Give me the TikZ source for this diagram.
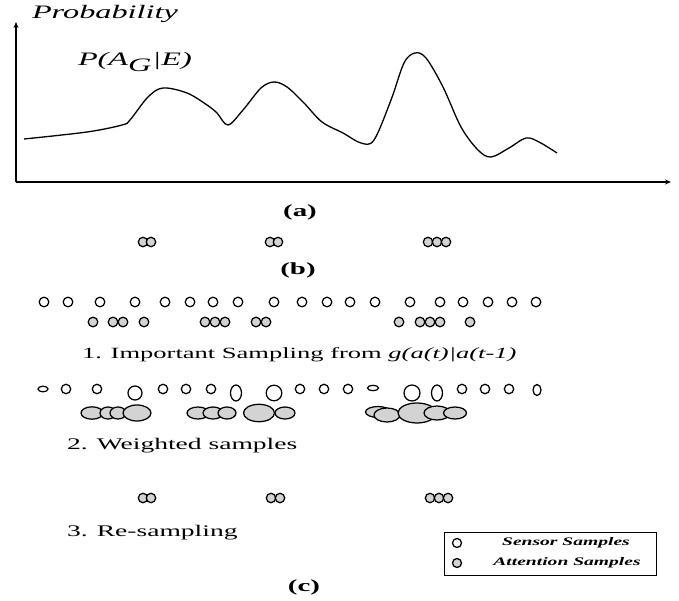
\documentclass[tikz,border=0pt]{standalone}
\usepackage{fontspec}
\setmainfont{Liberation Serif}
\usepackage{graphicx}
\usetikzlibrary{arrows.meta}
\definecolor{attgray}{RGB}{211,211,211}
\newcommand{\sx}[1]{\scalebox{1.7}[1]{#1}}
\tikzset{
  sens/.style={draw=black, line width=1.25pt, fill=white},
  att/.style={draw=black, line width=1.25pt, fill=attgray},
  axisline/.style={line width=1.2pt, -{Stealth[length=6pt,width=5pt]}},
  lbl/.style={inner sep=0pt, outer sep=0pt},
}
\begin{document}
\begin{tikzpicture}[x=1pt,y=-1pt]
\useasboundingbox[fill=white] (0,0) rectangle (679,601);
% axes
\coordinate (o) at (16,182);
\coordinate (ytop) at (16,22);
\coordinate (xend) at (671,182);
\draw[axisline] (o) -- (ytop);
\draw[axisline] (o) -- (xend);
\node[lbl, anchor=west] (prob) at (32,14) {\fontsize{19}{22}\selectfont\sx{\itshape Probability}};
\node[lbl, anchor=west] (pag) at (78,62) {\fontsize{19}{22}\selectfont\sx{\itshape P(A$_{\textit{G}}$|E)}};
% curve
\draw[line width=1.3pt] plot[smooth, tension=0.55] coordinates {
(24,139) (87,132) (122,125) (130,120) (148,97) (163,88) (187,93) (207,105) (217,113) (228,125)
(243,110) (261,88) (274,82) (287,87) (304,103) (322,122) (343,133) (361,143) (374,140)
(391,100) (404,63) (415,53) (426,58) (443,87) (461,127) (478,150) (491,157) (509,148)
(526,138) (539,142) (557,153)};
\node[lbl] (capa) at (300,212) {\fontsize{17}{20}\selectfont\sx{\bfseries (a)}};
% (b)
\foreach \x in {143,151,270,278,428,437,446} \draw[att] (\x,242) circle[radius=4.7pt];
\node[lbl] (capb) at (298,270) {\fontsize{17}{20}\selectfont\sx{\bfseries (b)}};
% (c) row 1
\foreach \x in {44,68,100,135,165,190,213,238,274,302,327,350,375,410,440,463,488,512,536}
  \draw[sens] (\x,302) circle[radius=4.8pt];
\foreach \x in {93,113,123,144,205,215,225,256,266,399,420,430,440,470}
  \draw[att] (\x,322) circle[radius=4.8pt];
\node[lbl, anchor=west] (t1) at (82,355) {\fontsize{15.6}{18}\selectfont\sx{1. Important Sampling from \textit{g(a(t)|a(t-1)}}};
% (c) row 2 weighted
\draw[sens] (43,389) ellipse[x radius=5pt, y radius=2.8pt];
\foreach \x in {66,97,163,186,211,300,324,348,462,485,509}
  \draw[sens] (\x,389) circle[radius=4.7pt];
\draw[sens] (135,393) circle[radius=7pt];
\draw[sens] (236,393) ellipse[x radius=5.5pt, y radius=8pt];
\draw[sens] (274,393) circle[radius=7.8pt];
\draw[sens] (373,388) ellipse[x radius=5.5pt, y radius=2.7pt];
\draw[sens] (412,393) circle[radius=8pt];
\draw[sens] (437,393) ellipse[x radius=5.5pt, y radius=8pt];
\draw[sens] (537,390) ellipse[x radius=4pt, y radius=5.5pt];
% attention ellipses
\draw[att] (92,413) ellipse[x radius=11pt, y radius=6.2pt];
\draw[att] (108,413) ellipse[x radius=8pt, y radius=6pt];
\draw[att] (118,413) ellipse[x radius=8pt, y radius=6pt];
\draw[att] (137,413) ellipse[x radius=14pt, y radius=8pt];
\draw[att] (198,413) ellipse[x radius=11pt, y radius=6pt];
\draw[att] (213,413) ellipse[x radius=10pt, y radius=6pt];
\draw[att] (227,413) ellipse[x radius=9pt, y radius=6pt];
\draw[att] (259,413) ellipse[x radius=15.5pt, y radius=8.7pt];
\draw[att] (285,413) ellipse[x radius=10pt, y radius=6pt];
\draw[att] (378,412) ellipse[x radius=12.5pt, y radius=5.5pt];
\draw[att] (387,415) ellipse[x radius=13pt, y radius=7pt];
\draw[att] (417,413) ellipse[x radius=19pt, y radius=10pt];
\draw[att] (437,413) ellipse[x radius=13pt, y radius=7pt];
\draw[att] (455,413) ellipse[x radius=11.5pt, y radius=6pt];
\node[lbl, anchor=west] (t2) at (67,446) {\fontsize{16.2}{19}\selectfont\sx{2. Weighted samples}};
% (c) row 3
\foreach \x in {143,151,271,280,430,439,448} \draw[att] (\x,498) circle[radius=4.7pt];
\node[lbl, anchor=west] (t3) at (67,533) {\fontsize{16.2}{19}\selectfont\sx{3. Re-sampling}};
\node[lbl] (capc) at (304,587) {\fontsize{17}{20}\selectfont\sx{\bfseries (c)}};
% legend
\node[draw, line width=1.2pt, minimum width=212pt, minimum height=43pt, inner sep=0pt, anchor=north west] (leg) at (444,532) {};
\draw[sens] (457,543) circle[radius=4.5pt];
\draw[att] (457,563) circle[radius=4.5pt];
\node[lbl] (ls) at (566,543) {\fontsize{11.5}{13}\selectfont\sx{\bfseries\itshape Sensor Samples}};
\node[lbl] (la) at (567,563) {\fontsize{11.5}{13}\selectfont\sx{\bfseries\itshape Attention Samples}};
\end{tikzpicture}
\end{document}
